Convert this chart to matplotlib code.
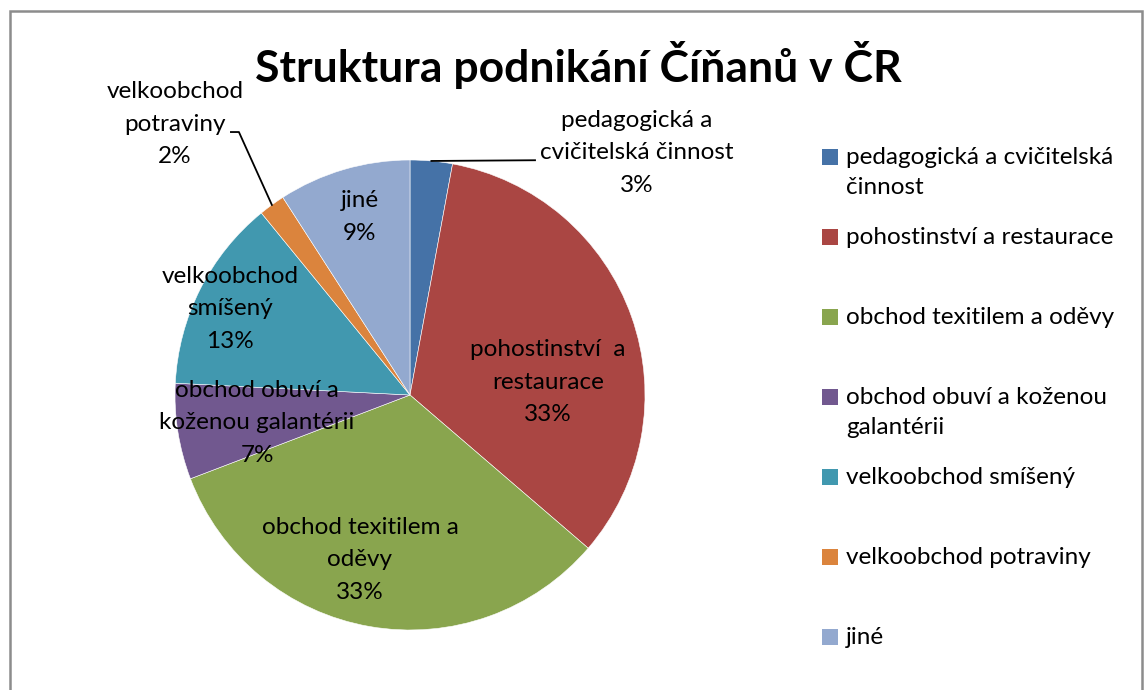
import numpy as np
import matplotlib.pyplot as plt
from matplotlib.patches import Rectangle

# ── Data ─────────────────────────────────────────────────────────────────────
categories = [
    "pedagogická a cvičitelská činnost",
    "pohostinství a restaurace",
    "obchod texitilem a oděvy",
    "obchod obuví a koženou galantérii",
    "velkoobchod smíšený",
    "velkoobchod potraviny",
    "jiné",
]
shares = [2.9, 33.4, 32.9, 6.6, 13.3, 1.8, 9.1]   # percent

# wrapped texts used on the slices and in the legend
slice_texts = [
    "pedagogická a\ncvičitelská činnost",
    "pohostinství  a\nrestaurace",
    "obchod texitilem a\noděvy",
    "obchod obuví a\nkoženou galantérii",
    "velkoobchod\nsmíšený",
    "velkoobchod\npotraviny",
    "jiné",
]
legend_texts = [
    "pedagogická a cvičitelská\nčinnost",
    "pohostinství a restaurace",
    "obchod texitilem a oděvy",
    "obchod obuví a koženou\ngalantérii",
    "velkoobchod smíšený",
    "velkoobchod potraviny",
    "jiné",
]
colors = ["#4572A7", "#AA4643", "#89A54E", "#71588F", "#4198AF", "#DB843D", "#93A9CF"]

TITLE = "Struktura podnikání Číňanů v ČR"

# ── Layout (pixels of a 1144x690 canvas) ─────────────────────────────────────
W, H = 1144, 690
CX, CY, R = 410, 395, 235          # pie centre and radius
FONT = "Lato"
FS = 17.5

# label centres relative to pie, in radii (x right, y up)
label_pos = [(0.966, 1.03), (0.587, 0.055), (-0.213, -0.702), (-0.651, -0.119),
             (-0.766, 0.366), (-1.0, 1.153), (-0.213, 0.757)]
leaders = {0: [(0.532, 0.999)], 5: [(-0.728, 1.119), (-0.762, 1.119)]}

fig = plt.figure(figsize=(W / 100, H / 100), dpi=100)
fig.patch.set_facecolor("white")

# chart border (runs off the right/bottom edge like the screenshot)
fig.patches.append(Rectangle((10 / W, -0.05), (1142 - 10) / W, (H - 11) / H + 0.05,
                             transform=fig.transFigure, fill=False,
                             edgecolor="#8c8c8c", linewidth=1.8))

ax = fig.add_axes([(CX - R) / W, (H - CY - R) / H, 2 * R / W, 2 * R / H])
wedges, _ = ax.pie(shares, colors=colors, startangle=90, counterclock=False,
                   radius=1, wedgeprops=dict(edgecolor="white", linewidth=0.4))
ax.set_xlim(-1, 1)
ax.set_ylim(-1, 1)
ax.set_aspect("equal")
ax.axis("off")

cum = np.cumsum([0] + shares)
for i, (txt, pct) in enumerate(zip(slice_texts, shares)):
    x, y = label_pos[i]
    ax.text(x, y, f"{txt}\n{pct:.0f}%", ha="center", va="center", fontsize=FS,
            family=FONT, linespacing=1.7, clip_on=False)
    if i in leaders:
        mid = np.deg2rad((cum[i] + cum[i + 1]) / 2 / 100 * 360)
        pts = [(np.sin(mid), np.cos(mid))] + leaders[i]
        ax.plot([p[0] for p in pts], [p[1] for p in pts], color="black",
                linewidth=1.3, clip_on=False)

fig.text(578 / W, 1 - 65 / H, TITLE, ha="center", va="center", fontsize=32,
         fontweight="bold", family=FONT)

# legend, drawn by hand to mimic Excel's evenly spaced entries
for i, (txt, col) in enumerate(zip(legend_texts, colors)):
    y = 157 + 80 * i
    fig.patches.append(Rectangle((822 / W, 1 - (y + 8) / H), 16 / W, 16 / H,
                                 transform=fig.transFigure, facecolor=col,
                                 edgecolor="none"))
    fig.text(846 / W, 1 - (y - 10) / H, txt, ha="left", va="top", fontsize=FS,
             family=FONT, linespacing=1.5, transform=fig.transFigure)

fig.savefig("out.png", dpi=100)
